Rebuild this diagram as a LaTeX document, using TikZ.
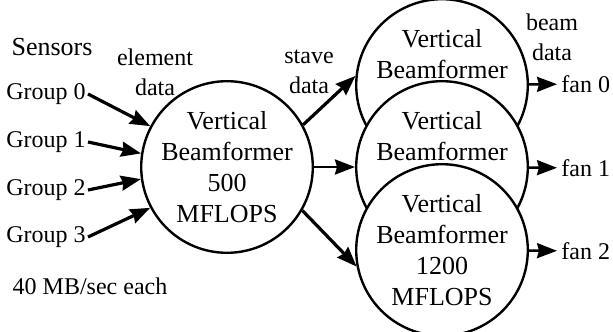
\documentclass[tikz,border=0pt]{standalone}
\usepackage{fontspec}
\setmainfont{Liberation Serif}
\usetikzlibrary{arrows.meta}

\begin{document}
\begin{tikzpicture}
[
x=0.5pt, y=-0.5pt,
beamnode/.style={circle, draw=black, fill=white, line width=1.2pt, minimum size=78pt, inner sep=0pt, align=center, font=\fontsize{13}{15.5}\selectfont},
textnode/.style={inner sep=1pt, align=center, font=\fontsize{12}{15}\selectfont},
flow/.style={-{Stealth[length=10pt,width=7.5pt,inset=1pt]}, line width=1.6pt},
thinflow/.style={flow, line width=1.3pt},
]
\useasboundingbox (0,0) rectangle (613,331);
%Nodes
\node[beamnode] (vbf) at (227,167) {Vertical\\Beamformer\\500\\MFLOPS};
\node[beamnode] (vbf0) at (442,85) {Vertical\\Beamformer\\\mbox{}\\\mbox{}};
\node[beamnode] (vbf1) at (442,167) {Vertical\\Beamformer\\\mbox{}\\\mbox{}};
\node[beamnode] (vbf2) at (442,250) {Vertical\\Beamformer\\1200\\MFLOPS};

\node[textnode, font=\fontsize{13}{15}\selectfont] (sensors) at (52,47) {Sensors};
\node[textnode, anchor=east] (g0) at (88,94) {Group 0};
\node[textnode, anchor=east] (g1) at (88,142) {Group 1};
\node[textnode, anchor=east] (g2) at (88,190) {Group 2};
\node[textnode, anchor=east] (g3) at (88,237) {Group 3};
\node[textnode] (each) at (90,286) {40 MB/sec each};

\node[textnode] (elem) at (155,72) {element\\data};
\node[textnode] (stave) at (309,72) {stave\\data};
\node[textnode] (beam) at (552,37) {beam\\data};

\node[textnode, inner sep=2pt, anchor=west] (fan0) at (557,84) {fan 0};
\node[textnode, inner sep=2pt, anchor=west] (fan1) at (557,168) {fan 1};
\node[textnode, inner sep=2pt, anchor=west] (fan2) at (557,251) {fan 2};

%Lines
\draw[flow] (g0.east) -- (vbf.152);
\draw[flow] (g1.east) -- (vbf.171);
\draw[flow] (g2.east) -- (vbf.188);
\draw[flow] (g3.east) -- (vbf.208);

\draw[flow] (vbf.29) -- (vbf0.174);
\draw[thinflow] (vbf) -- (vbf1);
\draw[flow] (vbf.-30) -- (vbf2.191);

\draw[thinflow] (vbf0) -- (fan0);
\draw[thinflow] (vbf1) -- (fan1);
\draw[thinflow] (vbf2) -- (fan2);
\end{tikzpicture}
\end{document}
